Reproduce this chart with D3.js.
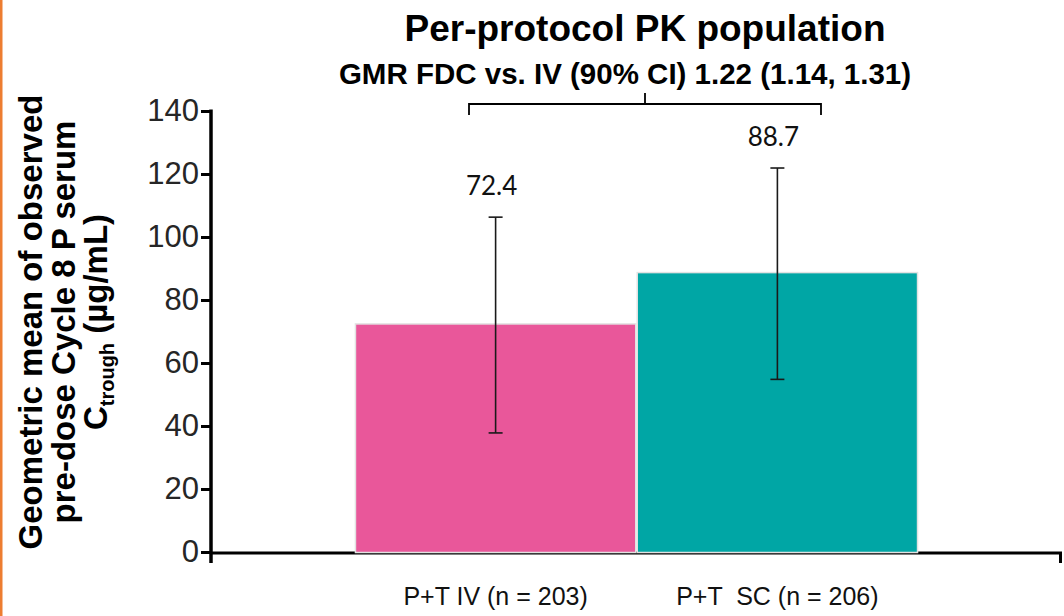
<!DOCTYPE html>
<html>
<head>
<meta charset="utf-8">
<script src="https://cdn.jsdelivr.net/npm/d3@7"></script>
<style>
  html, body { margin: 0; padding: 0; background: #fff; }
  svg { display: block; }
</style>
</head>
<body>
<svg id="chart" width="1064" height="616"></svg>
<script>
// Geometric mean Ctrough by treatment arm, with 90% CI bounds
const categories = ["P+T IV (n = 203)", "P+T  SC (n = 206)"];
const means = [72.4, 88.7];
const ciLower = [37.8, 54.8];
const ciUpper = [106.3, 121.9];
const barColors = ["#E9579A", "#00A6A5"];
const yTicks = [0, 20, 40, 60, 80, 100, 120, 140];
const titleText = "Per-protocol PK population";
const gmrText = "GMR FDC vs. IV (90% CI) 1.22 (1.14, 1.31)";

const svg = d3.select("#chart");

// slide accent border on the left edge
svg.append("rect").attr("x", 0).attr("y", 0).attr("width", 2.5).attr("height", 616)
  .attr("fill", "#ED7D31");

const plot = { left: 211, right: 1062, top: 111, bottom: 552 };

const y = d3.scaleLinear().domain([0, 140]).range([plot.bottom, plot.top]);
const x = d3.scaleBand().domain(categories)
  .range([plot.left, plot.right]).paddingInner(0).paddingOuter(0.51);

const fontArial = "'Liberation Sans', Arial, sans-serif";

// baseline (drawn first so the bars sit over it)
svg.append("line")
  .attr("x1", plot.left).attr("x2", plot.right)
  .attr("y1", plot.bottom + 1).attr("y2", plot.bottom + 1)
  .attr("stroke", "#000").attr("stroke-width", 3);
svg.append("line")
  .attr("x1", plot.right - 1.5).attr("x2", plot.right - 1.5)
  .attr("y1", plot.bottom).attr("y2", plot.bottom + 11)
  .attr("stroke", "#000").attr("stroke-width", 3);

// bars
svg.append("g").selectAll("rect")
  .data(categories)
  .join("rect")
  .attr("x", d => x(d) + 0.75)
  .attr("width", x.bandwidth() - 1.5)
  .attr("y", (d, i) => y(means[i]))
  .attr("height", (d, i) => y(0) - y(means[i]) + 0.5)
  .attr("fill", (d, i) => barColors[i])
  .attr("stroke", "#e2e2e2")
  .attr("stroke-width", 1.5);

// y axis
const yAxis = d3.axisLeft(y).tickValues(yTicks).tickSize(10).tickPadding(2);
const gy = svg.append("g").attr("transform", `translate(${plot.left},0)`).call(yAxis);
gy.select(".domain").remove();
gy.selectAll(".tick line").attr("stroke", "#000").attr("stroke-width", 3);
gy.selectAll(".tick text")
  .attr("font-family", fontArial).attr("font-size", 31).attr("fill", "#262626");
svg.append("line")
  .attr("x1", plot.left).attr("x2", plot.left)
  .attr("y1", plot.top - 1.5).attr("y2", plot.bottom + 11)
  .attr("stroke", "#000").attr("stroke-width", 3.5);

// 90% CI whiskers
const cap = 7;
const eb = svg.append("g").attr("stroke", "#1a1a1a").attr("stroke-width", 1.6);
categories.forEach((c, i) => {
  const cx = x(c) + x.bandwidth() / 2;
  eb.append("line").attr("x1", cx).attr("x2", cx)
    .attr("y1", y(ciUpper[i])).attr("y2", y(ciLower[i]));
  eb.append("line").attr("x1", cx - cap).attr("x2", cx + cap)
    .attr("y1", y(ciUpper[i])).attr("y2", y(ciUpper[i]));
  eb.append("line").attr("x1", cx - cap).attr("x2", cx + cap)
    .attr("y1", y(ciLower[i])).attr("y2", y(ciLower[i]));
});

// value labels above the whiskers
svg.append("g").selectAll("text")
  .data(categories)
  .join("text")
  .attr("x", d => x(d) + x.bandwidth() / 2 - 4)
  .attr("y", (d, i) => y(ciUpper[i]) - 22)
  .attr("text-anchor", "middle")
  .attr("font-family", "Lato, 'Open Sans', sans-serif")
  .attr("font-size", 26)
  .attr("fill", "#111")
  .text((d, i) => means[i].toFixed(1));

// category labels
svg.append("g").selectAll("text")
  .data(categories)
  .join("text")
  .attr("x", d => x(d) + x.bandwidth() / 2)
  .attr("y", 605)
  .attr("text-anchor", "middle")
  .attr("font-family", fontArial)
  .attr("font-size", 25)
  .attr("fill", "#111")
  .attr("xml:space", "preserve")
  .style("white-space", "pre")
  .text(d => d);

// comparison bracket spanning both arms
const bx1 = 469, bx2 = 821, by = 104;
const bracket = d3.path();
bracket.moveTo(bx1, by + 11); bracket.lineTo(bx1, by); bracket.lineTo(bx2, by); bracket.lineTo(bx2, by + 11);
bracket.moveTo((bx1 + bx2) / 2, by); bracket.lineTo((bx1 + bx2) / 2, by - 11);
svg.append("path").attr("d", bracket.toString())
  .attr("fill", "none").attr("stroke", "#000").attr("stroke-width", 1.8);

// titles
svg.append("text").attr("x", 645).attr("y", 41).attr("text-anchor", "middle")
  .attr("font-family", fontArial).attr("font-weight", "bold").attr("font-size", 37)
  .attr("fill", "#000").text(titleText);
svg.append("text").attr("x", 625).attr("y", 84).attr("text-anchor", "middle")
  .attr("font-family", fontArial).attr("font-weight", "bold").attr("font-size", 29.5)
  .attr("fill", "#000").text(gmrText);

// y axis title (three lines, rotated)
const yt = svg.append("text")
  .attr("transform", "translate(0,322) rotate(-90)")
  .attr("text-anchor", "middle")
  .attr("font-family", fontArial).attr("font-weight", "bold").attr("font-size", 33)
  .attr("fill", "#000");
yt.append("tspan").attr("x", 0).attr("y", 42).text("Geometric mean of observed");
yt.append("tspan").attr("x", 0).attr("y", 75).text("pre-dose Cycle 8 P serum");
const l3 = yt.append("tspan").attr("x", 0).attr("y", 107);
l3.append("tspan").text("C");
l3.append("tspan").attr("font-size", 20).attr("dy", 7).text("trough");
l3.append("tspan").attr("dy", -7).text(" (µg/mL)");
</script>
</body>
</html>
